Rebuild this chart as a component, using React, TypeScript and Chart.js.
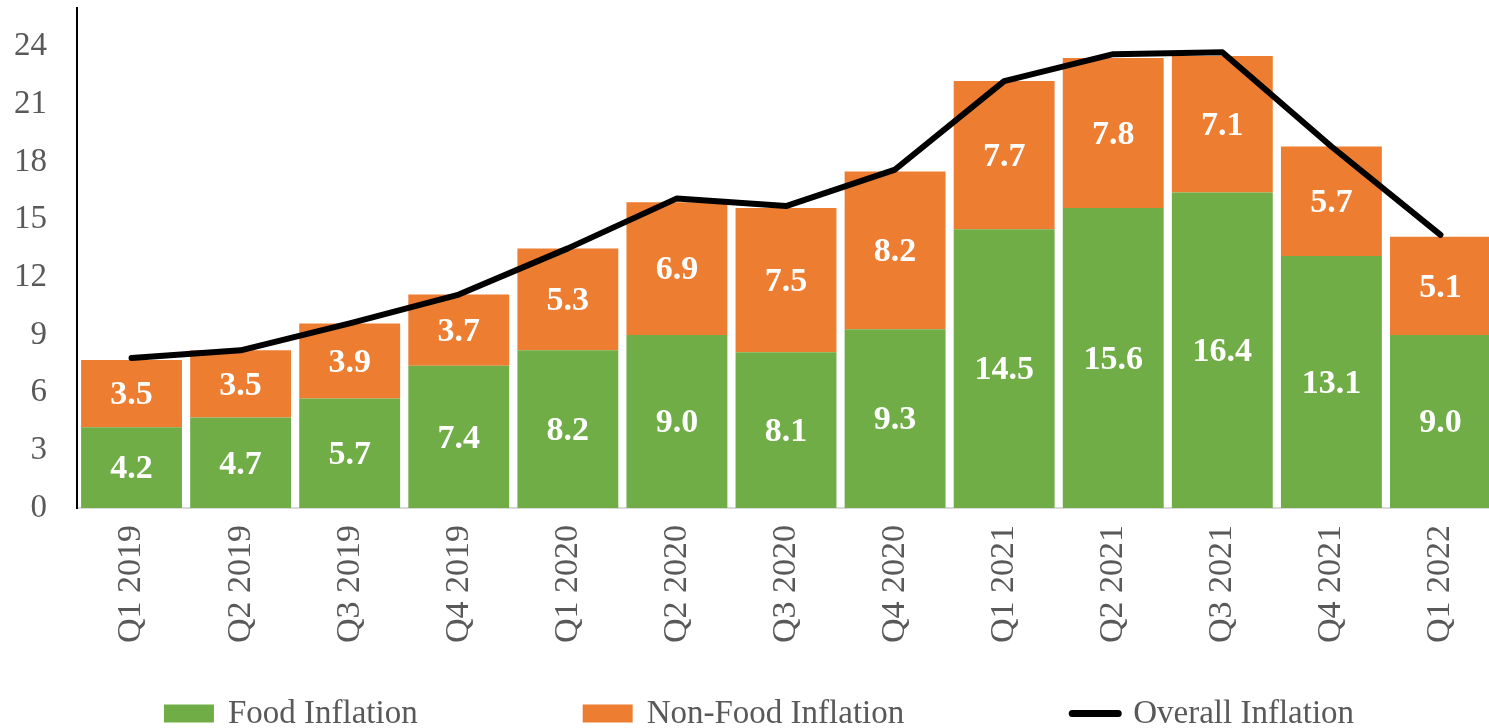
import React, { useEffect, useRef } from "react";
import { Chart, registerables } from "chart.js";

Chart.register(...registerables);

const categories = [
  "Q1 2019", "Q2 2019", "Q3 2019", "Q4 2019",
  "Q1 2020", "Q2 2020", "Q3 2020", "Q4 2020",
  "Q1 2021", "Q2 2021", "Q3 2021", "Q4 2021",
  "Q1 2022",
];
const foodInflation = [4.2, 4.7, 5.7, 7.4, 8.2, 9.0, 8.1, 9.3, 14.5, 15.6, 16.4, 13.1, 9.0];
const nonFoodInflation = [3.5, 3.5, 3.9, 3.7, 5.3, 6.9, 7.5, 8.2, 7.7, 7.8, 7.1, 5.7, 5.1];
const overallInflation = [7.8, 8.2, 9.6, 11.1, 13.5, 16.1, 15.7, 17.6, 22.2, 23.6, 23.7, 18.8, 14.2];
const yTickValues = [0, 3, 6, 9, 12, 15, 18, 21, 24];
const seriesNames = ["Food Inflation", "Non-Food Inflation", "Overall Inflation"];

const FONT = '"Liberation Serif", "Times New Roman", serif';
const GREEN = "#70AD47";
const ORANGE = "#ED7D31";
const GRAY_TEXT = "#595959";

const W = 1500;
const H = 740;

const barLabelPlugin = {
  id: "barLabels",
  afterDatasetDraw(chart: any, args: any) {
    const meta = args.meta;
    if (meta.type !== "bar") return;
    const ds = chart.data.datasets[args.index];
    const ctx = chart.ctx;
    ctx.save();
    ctx.font = `bold 34px ${FONT}`;
    ctx.fillStyle = "#FFFFFF";
    ctx.textAlign = "center";
    ctx.textBaseline = "middle";
    meta.data.forEach((bar: any, i: number) => {
      const v = ds.data[i];
      const cy = (bar.y + bar.base) / 2;
      ctx.fillText(Number(v).toFixed(1), bar.x, cy + 2);
    });
    ctx.restore();
  },
};

const bottomLegendPlugin = {
  id: "bottomLegend",
  afterDraw(chart: any) {
    const ctx = chart.ctx;
    const datasets = chart.data.datasets;
    ctx.save();
    ctx.font = `33px ${FONT}`;
    const box = 50;
    const gap = 14;
    const spacing = 165;
    const widths = datasets.map((d: any) => box + gap + ctx.measureText(d.label).width);
    const total = widths.reduce((a: number, b: number) => a + b, 0) + spacing * (datasets.length - 1);
    let x = chart.width / 2 + 9 - total / 2;
    const cy = chart.height - 26.5;
    datasets.forEach((d: any, i: number) => {
      if (d.type === "line") {
        ctx.strokeStyle = d.borderColor;
        ctx.lineWidth = 7;
        ctx.lineCap = "round";
        ctx.beginPath();
        ctx.moveTo(x + 3, cy);
        ctx.lineTo(x + box - 1, cy);
        ctx.stroke();
      } else {
        ctx.fillStyle = d.backgroundColor;
        ctx.fillRect(x, cy - 9, box, 18);
      }
      ctx.fillStyle = GRAY_TEXT;
      ctx.textAlign = "left";
      ctx.textBaseline = "middle";
      ctx.fillText(d.label, x + box + gap, cy + 1);
      x += widths[i] + spacing;
    });
    ctx.restore();
  },
};

export default function App() {
  const canvasRef = useRef<HTMLCanvasElement | null>(null);

  useEffect(() => {
    document.body.style.overflow = "hidden";
    const canvas = canvasRef.current;
    if (!canvas) return;
    const chart = new Chart(canvas, {
      type: "bar",
      data: {
        labels: categories,
        datasets: [
          {
            type: "bar",
            label: seriesNames[0],
            data: foodInflation,
            backgroundColor: GREEN,
            borderWidth: 0,
            stack: "s",
            order: 1,
            categoryPercentage: 1,
            barPercentage: 0.925,
          },
          {
            type: "bar",
            label: seriesNames[1],
            data: nonFoodInflation,
            backgroundColor: ORANGE,
            borderWidth: 0,
            stack: "s",
            order: 1,
            categoryPercentage: 1,
            barPercentage: 0.925,
          },
          {
            type: "line",
            label: seriesNames[2],
            data: overallInflation,
            borderColor: "#000000",
            backgroundColor: "#000000",
            borderWidth: 6,
            borderCapStyle: "round",
            borderJoinStyle: "round",
            pointRadius: 0,
            pointHoverRadius: 0,
            tension: 0,
            fill: false,
            stack: "line",
            order: 0,
          },
        ],
      } as any,
      options: {
        responsive: false,
        animation: false,
        devicePixelRatio: 1,
        layout: { padding: { top: 8, right: 5, left: 0, bottom: 0 } },
        plugins: {
          legend: { display: false },
          tooltip: { enabled: false },
        },
        scales: {
          x: {
            stacked: true,
            grid: { display: false, drawTicks: false },
            border: { display: true, color: "#D9D9D9", width: 2 },
            ticks: {
              autoSkip: false,
              minRotation: 90,
              maxRotation: 90,
              padding: 17,
              color: GRAY_TEXT,
              font: { family: FONT, size: 34 },
            },
            afterFit: (scale: any) => {
              scale.height = H - 508;
            },
          },
          y: {
            stacked: true,
            min: 0,
            max: 26,
            grid: { display: false, drawTicks: true, tickLength: 30 },
            border: { display: true, color: "#000000", width: 2 },
            ticks: {
              padding: 0,
              color: GRAY_TEXT,
              font: { family: FONT, size: 33, lineHeight: 0.4 },
            },
            afterBuildTicks: (scale: any) => {
              scale.ticks = yTickValues.map((v) => ({ value: v }));
            },
            afterFit: (scale: any) => {
              scale.width = 77;
            },
          },
        },
      } as any,
      plugins: [barLabelPlugin, bottomLegendPlugin],
    });
    return () => chart.destroy();
  }, []);

  return (
    <div style={{ position: "fixed", left: 0, top: 0, width: W, height: H }}>
      <canvas ref={canvasRef} width={W} height={H} style={{ width: W, height: H, display: "block" }} />
    </div>
  );
}
